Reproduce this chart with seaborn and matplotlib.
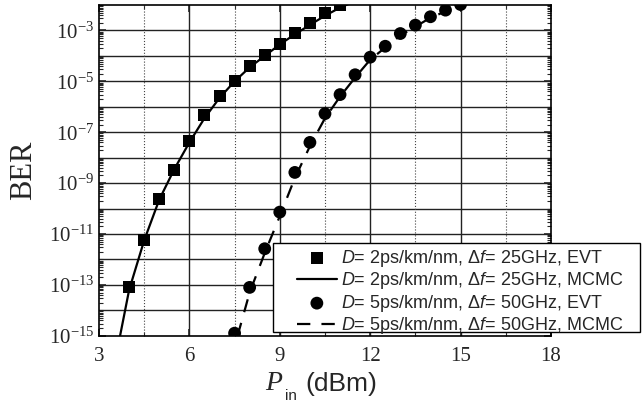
import numpy as np
import pandas as pd
import matplotlib
matplotlib.use("Agg")
import matplotlib.pyplot as plt
from matplotlib.patches import Rectangle
from matplotlib.ticker import MultipleLocator, LogLocator, FixedLocator, NullFormatter
import seaborn as sns

# data (BER as log10 exponent)
p_evt_25 = [4.0, 4.5, 5.0, 5.5, 6.0, 6.5, 7.0, 7.5, 8.0, 8.5, 9.0, 9.5, 10.0, 10.5, 11.0]
ber_evt_25 = [-13.1, -11.23, -9.62, -8.5, -7.34, -6.33, -5.56, -4.97, -4.4, -3.97, -3.52, -3.09, -2.72, -2.30, -1.98]

p_mcmc_25 = [3.7, 4.0, 4.5, 5.0, 5.5, 6.0, 6.5, 7.0, 7.5, 8.0, 8.5, 9.0, 9.5, 10.0, 10.5, 11.0, 11.4]
ber_mcmc_25 = [-15.0, -13.2, -11.25, -9.65, -8.45, -7.4, -6.45, -5.65, -5.0, -4.45, -4.0, -3.55, -3.15, -2.78, -2.42, -2.1, -1.9]

p_evt_50 = [7.5, 8.0, 8.5, 9.0, 9.5, 10.0, 10.5, 11.0, 11.5, 12.0, 12.5, 13.0, 13.5, 14.0, 14.5, 15.0]
ber_evt_50 = [-14.9, -13.1, -11.58, -10.14, -8.58, -7.40, -6.27, -5.52, -4.74, -4.05, -3.62, -3.12, -2.79, -2.46, -2.2, -1.98]

p_mcmc_50 = [7.6, 8.0, 8.5, 9.0, 9.5, 10.0, 10.5, 11.0, 11.5, 12.0, 12.5, 13.0, 13.5, 14.0, 14.5, 15.0, 15.4]
ber_mcmc_50 = [-15.0, -13.3, -11.75, -10.3, -8.8, -7.55, -6.45, -5.6, -4.85, -4.15, -3.67, -3.2, -2.85, -2.5, -2.25, -2.0, -1.85]

labels = [
    "$D$= 2ps/km/nm, Δ$f$= 25GHz, EVT",
    "$D$= 2ps/km/nm, Δ$f$= 25GHz, MCMC",
    "$D$= 5ps/km/nm, Δ$f$= 50GHz, EVT",
    "$D$= 5ps/km/nm, Δ$f$= 50GHz, MCMC",
]

sns.set_style("ticks")
plt.rcParams['font.family'] = ['Liberation Serif', 'DejaVu Serif']
plt.rcParams['mathtext.fontset'] = 'custom'
plt.rcParams['mathtext.rm'] = 'Liberation Serif'
plt.rcParams['mathtext.it'] = 'Liberation Sans:italic'
plt.rcParams['mathtext.sf'] = 'Liberation Sans'

fig = plt.figure(figsize=(6.42, 4.04), dpi=100)
ax = fig.add_axes([0.1542, 0.169, 0.704, 0.8185])

sns.scatterplot(x=p_evt_25, y=10.0 ** np.array(ber_evt_25), marker='s', s=75, color='black',
                edgecolor='none', ax=ax, label=labels[0], zorder=5)
sns.lineplot(x=p_mcmc_25, y=10.0 ** np.array(ber_mcmc_25), color='black', lw=1.6,
             ax=ax, label=labels[1], zorder=4)
sns.scatterplot(x=p_evt_50, y=10.0 ** np.array(ber_evt_50), marker='o', s=85, color='black',
                edgecolor='none', ax=ax, label=labels[2], zorder=5)
sns.lineplot(x=p_mcmc_50, y=10.0 ** np.array(ber_mcmc_50), color='black', lw=1.6,
             linestyle=(0, (6, 5)), ax=ax, label=labels[3], zorder=4)

ax.set_yscale('log')
ax.set_xlim(3, 18)
ax.set_ylim(1e-15, 1e-2)

ax.xaxis.set_major_locator(MultipleLocator(3))
ax.xaxis.set_minor_locator(FixedLocator([4.5, 7.5, 10.5, 13.5, 16.5]))
ax.yaxis.set_major_locator(FixedLocator([10.0 ** e for e in range(-15, -2, 2)]))
ax.yaxis.set_major_formatter(plt.FuncFormatter(lambda v, p: r'$\mathrm{10^{%d}}$' % round(np.log10(v))))
ax.yaxis.set_minor_locator(LogLocator(base=10, subs=np.arange(1, 10), numticks=30))
ax.yaxis.set_minor_formatter(NullFormatter())

# grid: every decade solid, x majors solid, x minors dotted
for e in range(-14, -2):
    ax.axhline(10.0 ** e, color='#222222', lw=1.0, zorder=1)
for xv in [6, 9, 12, 15]:
    ax.axvline(xv, color='#222222', lw=1.0, zorder=1)
for xv in [4.5, 7.5, 10.5, 13.5, 16.5]:
    ax.axvline(xv, color='#444444', lw=0.8, ls=':', zorder=1)

ax.tick_params(which='both', direction='in', top=True, right=True, labelsize=15)
ax.tick_params(axis='x', pad=8)
ax.tick_params(which='major', length=5, width=1.2)
ax.tick_params(which='minor', length=3, width=0.8)
for s in ax.spines.values():
    s.set_linewidth(1.2)
    s.set_color('black')

ax.set_ylabel('BER', fontsize=22, labelpad=8)

# x label built from pieces: italic serif P, small sans subscript, sans unit
fig.text(265 / 642, 1 - 390 / 404, 'P', fontsize=20, family='Liberation Serif', style='italic', va='baseline')
fig.text(285 / 642, 1 - 400 / 404, 'in', fontsize=11, family='Liberation Sans', va='baseline')
fig.text(305 / 642, 1 - 391 / 404, '(dBm)', fontsize=19, family='Liberation Sans', va='baseline')

# legend with a separate frame, so it can reach past the axes
ax.legend_.remove()
h, l = ax.get_legend_handles_labels()
fig.patches.append(Rectangle((273 / 642, 1 - 332 / 404), (640 - 273) / 642, (332 - 243) / 404,
                             transform=fig.transFigure, facecolor='white', edgecolor='black',
                             lw=1.0, zorder=4.9))
leg = fig.legend(h, l, loc='upper left', bbox_to_anchor=(297 / 642, 1 - 248 / 404),
                 borderaxespad=0, borderpad=0, prop={'family': 'Liberation Sans', 'size': 13},
                 handlelength=2.2, handletextpad=0.25, labelspacing=0.08,
                 frameon=False)
leg.set_zorder(5)

fig.savefig('out.png', dpi=100)
